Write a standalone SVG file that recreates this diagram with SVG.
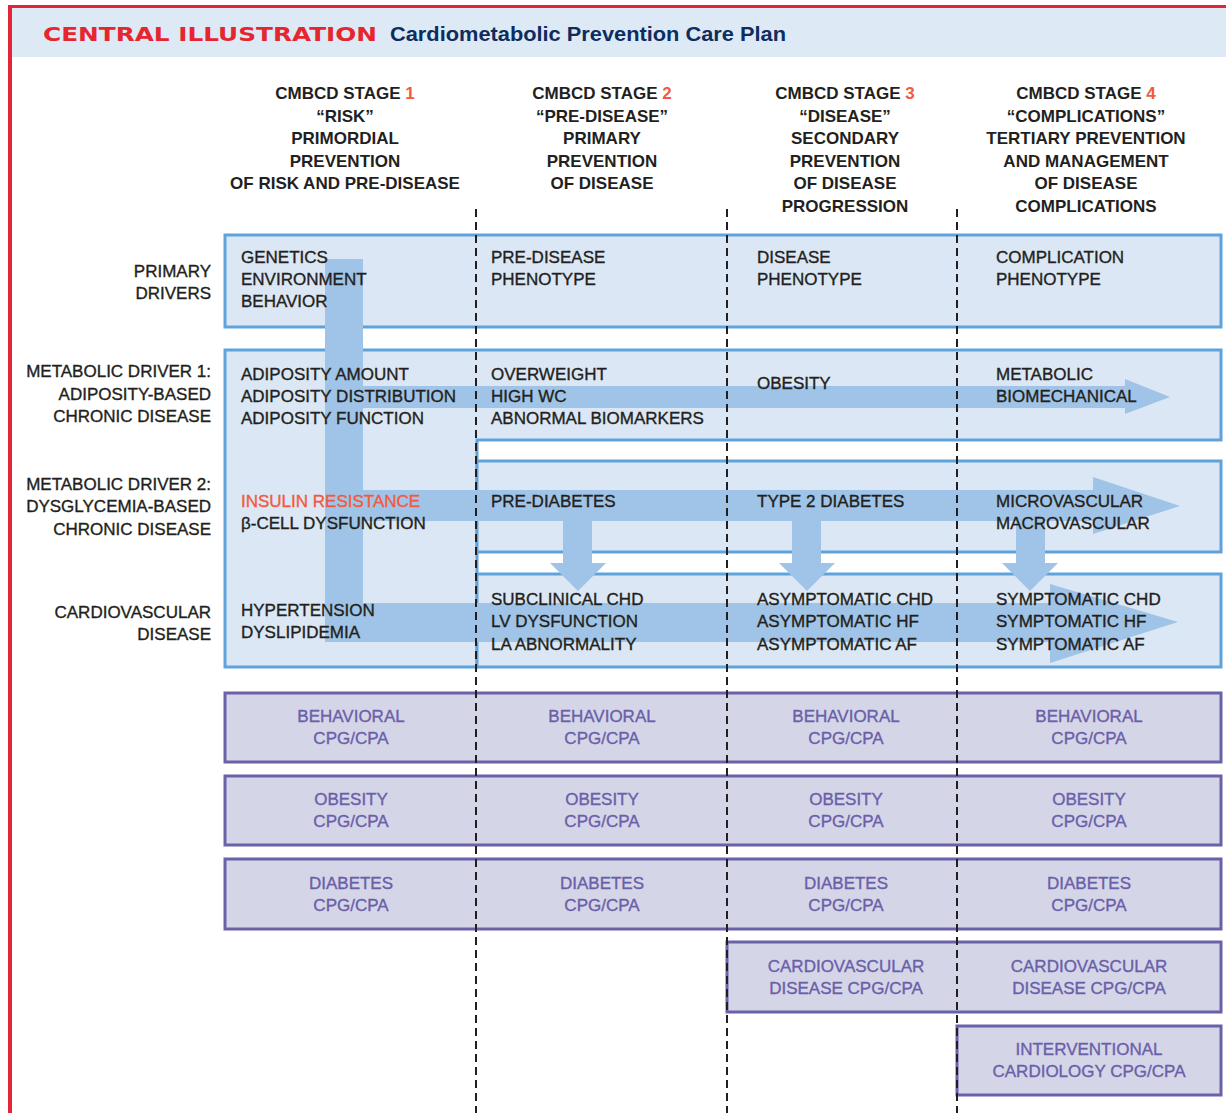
<svg xmlns="http://www.w3.org/2000/svg" width="1226" height="1113" viewBox="0 0 1226 1113">
<style>
text{font-family:"Liberation Sans",Arial,sans-serif;font-size:17px}
.hdr{font-weight:bold;fill:#231f20;text-anchor:middle}
.num{fill:#f15a40}
.lbl{fill:#231f20;stroke:#231f20;stroke-width:0.35;text-anchor:end}
.txt{fill:#231f20;stroke:#231f20;stroke-width:0.35}
.red{fill:#f15a40;stroke:#f15a40}
.ptxt{fill:#6a5fa8;stroke:#6a5fa8;stroke-width:0.35;text-anchor:middle}
.bbox{fill:#dbe7f4;stroke:#5ea3dc;stroke-width:3}
.pbox{fill:#d5d5e8;stroke:#6a62a8;stroke-width:3}
.arr{fill:#9fc4e7}
.dash{stroke:#231f20;stroke-width:2;stroke-dasharray:8 5;fill:none}
</style>
<rect x="0" y="0" width="1226" height="1113" fill="#ffffff"/>
<g id="header">
<rect x="12" y="8" width="1214" height="49" fill="#dde9f5"/>
<rect x="8" y="5" width="1218" height="3" fill="#e32636"/>
<rect x="8" y="5" width="4" height="1108" fill="#e32636"/>
<text x="43" y="41" font-weight="bold" fill="#e5262f" textLength="334" lengthAdjust="spacingAndGlyphs" style="font-family:'DejaVu Sans',sans-serif;font-size:20px">CENTRAL ILLUSTRATION</text>
<text x="390" y="41" font-weight="bold" fill="#0e2d5e" textLength="396" lengthAdjust="spacingAndGlyphs" style="font-size:20px">Cardiometabolic Prevention Care Plan</text>
</g>
<g id="stage-headers">
<g id="stage1">
<text class="hdr" x="345" y="99">CMBCD STAGE <tspan class="num">1</tspan></text>
<text class="hdr" x="345" y="121.5">“RISK”</text>
<text class="hdr" x="345" y="144">PRIMORDIAL</text>
<text class="hdr" x="345" y="166.5">PREVENTION</text>
<text class="hdr" x="345" y="189">OF RISK AND PRE-DISEASE</text>
</g>
<g id="stage2">
<text class="hdr" x="602" y="99">CMBCD STAGE <tspan class="num">2</tspan></text>
<text class="hdr" x="602" y="121.5">“PRE-DISEASE”</text>
<text class="hdr" x="602" y="144">PRIMARY</text>
<text class="hdr" x="602" y="166.5">PREVENTION</text>
<text class="hdr" x="602" y="189">OF DISEASE</text>
</g>
<g id="stage3">
<text class="hdr" x="845" y="99">CMBCD STAGE <tspan class="num">3</tspan></text>
<text class="hdr" x="845" y="121.5">“DISEASE”</text>
<text class="hdr" x="845" y="144">SECONDARY</text>
<text class="hdr" x="845" y="166.5">PREVENTION</text>
<text class="hdr" x="845" y="189">OF DISEASE</text>
<text class="hdr" x="845" y="211.5">PROGRESSION</text>
</g>
<g id="stage4">
<text class="hdr" x="1086" y="99">CMBCD STAGE <tspan class="num">4</tspan></text>
<text class="hdr" x="1086" y="121.5">“COMPLICATIONS”</text>
<text class="hdr" x="1086" y="144">TERTIARY PREVENTION</text>
<text class="hdr" x="1086" y="166.5">AND MANAGEMENT</text>
<text class="hdr" x="1086" y="189">OF DISEASE</text>
<text class="hdr" x="1086" y="211.5">COMPLICATIONS</text>
</g>
</g>
<g id="row-labels">
<text class="lbl" x="211" y="277">PRIMARY</text>
<text class="lbl" x="211" y="299">DRIVERS</text>
<text class="lbl" x="211" y="377">METABOLIC DRIVER 1:</text>
<text class="lbl" x="211" y="400">ADIPOSITY-BASED</text>
<text class="lbl" x="211" y="422">CHRONIC DISEASE</text>
<text class="lbl" x="211" y="490">METABOLIC DRIVER 2:</text>
<text class="lbl" x="211" y="512">DYSGLYCEMIA-BASED</text>
<text class="lbl" x="211" y="535">CHRONIC DISEASE</text>
<text class="lbl" x="211" y="618">CARDIOVASCULAR</text>
<text class="lbl" x="211" y="640">DISEASE</text>
</g>
<g id="panels">
<rect id="primary-drivers" class="bbox" x="225" y="235" width="996" height="92"/>
<path id="metabolic-driver-1" class="bbox" d="M225,350 H1221 V440 H477 V667 H225 Z"/>
<rect id="metabolic-driver-2" class="bbox" x="477" y="461" width="744" height="91"/>
<rect id="cardiovascular-disease" class="bbox" x="477" y="574" width="744" height="93"/>
</g>
<g id="connectors">
<path class="arr" d="M325,259 H363 V603 H1050 V584 L1178,622 L1050,663 V642 H325 Z"/>
<path class="arr" d="M363,386 H1125 V379 L1170,397 L1125,414 V408 H363 Z"/>
<path class="arr" d="M363,490 H1093 V477 L1180,506 L1093,534 V521 H363 Z"/>
<path class="arr" d="M563,521 H592 V563 H606 L578,591 L550,563 H563 Z"/>
<path class="arr" d="M792,521 H821 V563 H835 L807,591 L779,563 H792 Z"/>
<path class="arr" d="M1016,521 H1045 V563 H1058 L1030,591 L1002,563 H1016 Z"/>
</g>
<g id="panel-texts">
<g id="pd-texts">
<text class="txt" x="241" y="263">GENETICS</text>
<text class="txt" x="241" y="285">ENVIRONMENT</text>
<text class="txt" x="241" y="307">BEHAVIOR</text>
<text class="txt" x="491" y="263">PRE-DISEASE</text>
<text class="txt" x="491" y="285">PHENOTYPE</text>
<text class="txt" x="757" y="263">DISEASE</text>
<text class="txt" x="757" y="285">PHENOTYPE</text>
<text class="txt" x="996" y="263">COMPLICATION</text>
<text class="txt" x="996" y="285">PHENOTYPE</text>
</g>
<g id="md1-texts">
<text class="txt" x="241" y="380">ADIPOSITY AMOUNT</text>
<text class="txt" x="241" y="402">ADIPOSITY DISTRIBUTION</text>
<text class="txt" x="241" y="424">ADIPOSITY FUNCTION</text>
<text class="txt" x="491" y="380">OVERWEIGHT</text>
<text class="txt" x="491" y="402">HIGH WC</text>
<text class="txt" x="491" y="424">ABNORMAL BIOMARKERS</text>
<text class="txt" x="757" y="389">OBESITY</text>
<text class="txt" x="996" y="380">METABOLIC</text>
<text class="txt" x="996" y="402">BIOMECHANICAL</text>
</g>
<g id="md2-texts">
<text class="txt red" x="241" y="507">INSULIN RESISTANCE</text>
<text class="txt" x="241" y="529">β-CELL DYSFUNCTION</text>
<text class="txt" x="491" y="507">PRE-DIABETES</text>
<text class="txt" x="757" y="507">TYPE 2 DIABETES</text>
<text class="txt" x="996" y="507">MICROVASCULAR</text>
<text class="txt" x="996" y="529">MACROVASCULAR</text>
</g>
<g id="cvd-texts">
<text class="txt" x="241" y="616">HYPERTENSION</text>
<text class="txt" x="241" y="638">DYSLIPIDEMIA</text>
<text class="txt" x="491" y="605">SUBCLINICAL CHD</text>
<text class="txt" x="491" y="627">LV DYSFUNCTION</text>
<text class="txt" x="491" y="650">LA ABNORMALITY</text>
<text class="txt" x="757" y="605">ASYMPTOMATIC CHD</text>
<text class="txt" x="757" y="627">ASYMPTOMATIC HF</text>
<text class="txt" x="757" y="650">ASYMPTOMATIC AF</text>
<text class="txt" x="996" y="605">SYMPTOMATIC CHD</text>
<text class="txt" x="996" y="627">SYMPTOMATIC HF</text>
<text class="txt" x="996" y="650">SYMPTOMATIC AF</text>
</g>
</g>
<g id="cpg-rows">
<g id="behavioral">
<rect class="pbox" x="225" y="693" width="996" height="69"/>
<text class="ptxt" x="351" y="722">BEHAVIORAL</text><text class="ptxt" x="351" y="744">CPG/CPA</text>
<text class="ptxt" x="602" y="722">BEHAVIORAL</text><text class="ptxt" x="602" y="744">CPG/CPA</text>
<text class="ptxt" x="846" y="722">BEHAVIORAL</text><text class="ptxt" x="846" y="744">CPG/CPA</text>
<text class="ptxt" x="1089" y="722">BEHAVIORAL</text><text class="ptxt" x="1089" y="744">CPG/CPA</text>
</g>
<g id="obesity">
<rect class="pbox" x="225" y="776" width="996" height="69"/>
<text class="ptxt" x="351" y="805">OBESITY</text><text class="ptxt" x="351" y="827">CPG/CPA</text>
<text class="ptxt" x="602" y="805">OBESITY</text><text class="ptxt" x="602" y="827">CPG/CPA</text>
<text class="ptxt" x="846" y="805">OBESITY</text><text class="ptxt" x="846" y="827">CPG/CPA</text>
<text class="ptxt" x="1089" y="805">OBESITY</text><text class="ptxt" x="1089" y="827">CPG/CPA</text>
</g>
<g id="diabetes">
<rect class="pbox" x="225" y="859" width="996" height="70"/>
<text class="ptxt" x="351" y="889">DIABETES</text><text class="ptxt" x="351" y="911">CPG/CPA</text>
<text class="ptxt" x="602" y="889">DIABETES</text><text class="ptxt" x="602" y="911">CPG/CPA</text>
<text class="ptxt" x="846" y="889">DIABETES</text><text class="ptxt" x="846" y="911">CPG/CPA</text>
<text class="ptxt" x="1089" y="889">DIABETES</text><text class="ptxt" x="1089" y="911">CPG/CPA</text>
</g>
<g id="cardiovascular">
<rect class="pbox" x="727" y="942" width="494" height="70"/>
<text class="ptxt" x="846" y="972">CARDIOVASCULAR</text><text class="ptxt" x="846" y="994">DISEASE CPG/CPA</text>
<text class="ptxt" x="1089" y="972">CARDIOVASCULAR</text><text class="ptxt" x="1089" y="994">DISEASE CPG/CPA</text>
</g>
<g id="interventional">
<rect class="pbox" x="957" y="1026" width="264" height="69"/>
<text class="ptxt" x="1089" y="1055">INTERVENTIONAL</text><text class="ptxt" x="1089" y="1077">CARDIOLOGY CPG/CPA</text>
</g>
</g>
<g id="stage-dividers">
<line class="dash" x1="476" y1="209" x2="476" y2="1113"/>
<line class="dash" x1="727" y1="209" x2="727" y2="1113"/>
<line class="dash" x1="957" y1="209" x2="957" y2="1113"/>
</g>
</svg>
